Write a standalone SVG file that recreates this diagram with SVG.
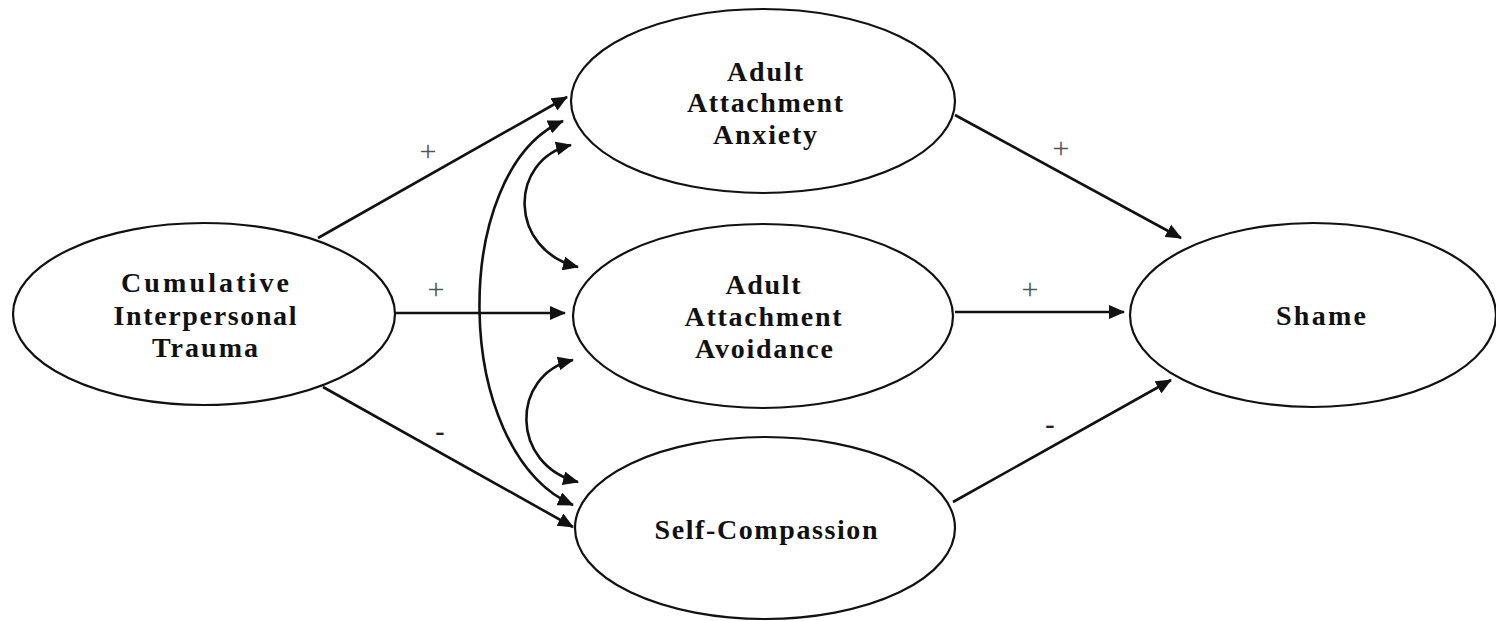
<svg xmlns="http://www.w3.org/2000/svg" width="1496" height="621" viewBox="0 0 1496 621">
<style>
.node ellipse{fill:#fff;stroke:#111;stroke-width:2.2}
.node text{font-family:"Liberation Serif","Times New Roman",serif;font-weight:bold;font-size:28px;fill:#111;text-anchor:middle}
.conn path,.conn line{fill:none;stroke:#111;stroke-width:2.6}
.lbl{font-family:"Liberation Serif","Times New Roman",serif;font-size:30px;fill:#555;text-anchor:middle}
.neg{font-family:"Liberation Serif","Times New Roman",serif;font-size:28px;font-weight:bold;fill:#222;text-anchor:middle}
</style>
<defs>
<marker id="ah" markerUnits="userSpaceOnUse" markerWidth="16" markerHeight="14" viewBox="0 0 16 14" refX="15" refY="7" orient="auto-start-reverse">
<path d="M0,0 L16,7 L0,14 z" fill="#111"/>
</marker>
</defs>
<rect width="1496" height="621" fill="#fff"/>
<g id="conn" class="conn">
<line x1="318" y1="238" x2="567" y2="97" marker-end="url(#ah)"/>
<line x1="396" y1="313" x2="565" y2="313" marker-end="url(#ah)"/>
<line x1="323" y1="387" x2="573" y2="527" marker-end="url(#ah)"/>
<line x1="955" y1="115" x2="1181" y2="238" marker-end="url(#ah)"/>
<line x1="955" y1="312" x2="1124" y2="312" marker-end="url(#ah)"/>
<line x1="953" y1="502" x2="1171" y2="380" marker-end="url(#ah)"/>
<path d="M563 121 C450 170,450 450,573 505" marker-start="url(#ah)" marker-end="url(#ah)"/>
<path d="M571 145 C508 160,508 250,578 267" marker-start="url(#ah)" marker-end="url(#ah)"/>
<path d="M573 360 C510 375,510 465,578 482" marker-start="url(#ah)" marker-end="url(#ah)"/>
</g>
<g id="labels">
<text class="lbl" x="428" y="161">+</text>
<text class="lbl" x="436" y="299">+</text>
<text class="neg" x="440" y="440">-</text>
<text class="lbl" x="1061" y="158">+</text>
<text class="lbl" x="1030" y="299">+</text>
<text class="neg" x="1050" y="433">-</text>
</g>
<g id="trauma" class="node">
<ellipse cx="204" cy="314" rx="191" ry="91"/>
<text x="205" y="292" textLength="168" lengthAdjust="spacing">Cumulative</text>
<text x="205" y="325" textLength="183" lengthAdjust="spacing">Interpersonal</text>
<text x="205" y="357" textLength="106" lengthAdjust="spacing">Trauma</text>
</g>
<g id="anxiety" class="node">
<ellipse cx="763" cy="101" rx="192" ry="92"/>
<text x="765" y="81" textLength="76" lengthAdjust="spacing">Adult</text>
<text x="765" y="112" textLength="156" lengthAdjust="spacing">Attachment</text>
<text x="765" y="144" textLength="104" lengthAdjust="spacing">Anxiety</text>
</g>
<g id="avoidance" class="node">
<ellipse cx="763" cy="316" rx="190" ry="92"/>
<text x="763" y="294" textLength="75" lengthAdjust="spacing">Adult</text>
<text x="763" y="326" textLength="157" lengthAdjust="spacing">Attachment</text>
<text x="764" y="358" textLength="138" lengthAdjust="spacing">Avoidance</text>
</g>
<g id="selfcompassion" class="node">
<ellipse cx="765" cy="528" rx="190" ry="91"/>
<text x="766" y="539" textLength="223" lengthAdjust="spacing">Self-Compassion</text>
</g>
<g id="shame" class="node">
<ellipse cx="1313" cy="315" rx="183" ry="92"/>
<text x="1321" y="325" textLength="90" lengthAdjust="spacing">Shame</text>
</g>
</svg>
